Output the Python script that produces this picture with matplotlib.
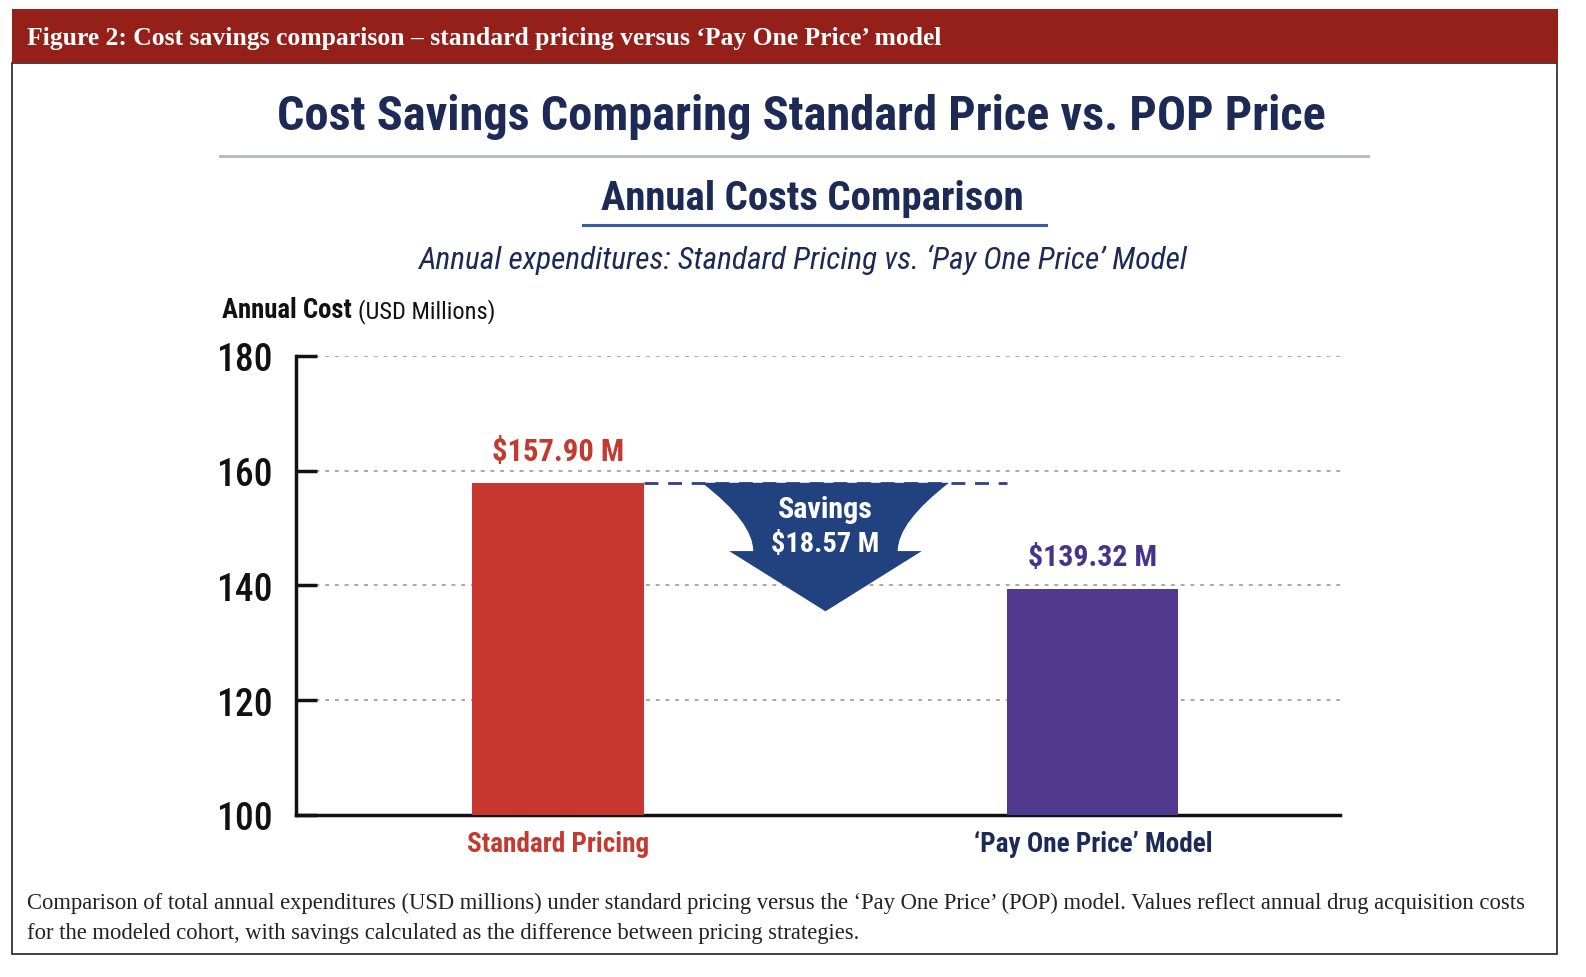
import matplotlib
matplotlib.use('Agg')

import matplotlib.pyplot as plt
from matplotlib.patches import Rectangle, PathPatch
from matplotlib.path import Path

# chart data
categories = ["Standard Pricing", "\u2018Pay One Price\u2019 Model"]
annual_cost = [157.90, 139.32]
value_labels = ["$157.90 M", "$139.32 M"]
savings = 18.57
y_ticks = [100, 120, 140, 160, 180]

W, H = 1586, 978
NAVY = "#1c2a55"
RED = "#c8372f"
RED_TXT = "#c23a30"
PURPLE = "#513a8e"
PURPLE_TXT = "#45358a"
ARROW = "#22427f"

SANS = ["Roboto Condensed", "Noto Sans Condensed", "Open Sans Condensed", "Open Sans"]
SERIF = ["Liberation Serif", "DejaVu Serif"]

fig = plt.figure(figsize=(W / 100, H / 100), dpi=100)
fig.patch.set_facecolor("white")
renderer = fig.canvas.get_renderer()

# background layer in pixel coordinates
bg = fig.add_axes([0, 0, 1, 1], zorder=0)
bg.set_xlim(0, W)
bg.set_ylim(H, 0)
bg.axis("off")


def fit(t, width):
    bb = t.get_window_extent(renderer)
    t.set_fontsize(t.get_fontsize() * width / bb.width)
    return t


def txt(x, y, s, width, ha="center", **kw):
    t = bg.text(x, y, s, ha=ha, va="center", fontsize=20, **kw)
    return fit(t, width)


bg.add_patch(Rectangle((12, 64), 1545, 891, fill=False, ec="#333333", lw=1.3))
bg.add_patch(Rectangle((12, 10), 1546, 54, fc="#95201a", ec="none"))

txt(27, 38, "Figure 2: Cost savings comparison \u2013 standard pricing versus \u2018Pay One Price\u2019 model",
    913, ha="left", color="white", family=SERIF, fontweight="bold")

txt(801, 117, "Cost Savings Comparing Standard Price vs. POP Price", 1047,
    color=NAVY, family=SANS, fontweight="bold")
bg.plot([220, 1368], [157, 157], color="#b3b7c4", lw=2)

txt(812, 199, "Annual Costs Comparison", 423, color=NAVY, family=SANS, fontweight="bold")
bg.plot([583, 1046], [226, 226], color="#3a5aa8", lw=2.2)

txt(802, 260, "Annual expenditures: Standard Pricing vs. \u2018Pay One Price\u2019 Model", 768,
    color=NAVY, family=SANS, style="italic")

txt(222, 310, "Annual Cost", 130, ha="left", color="#111111", family=SANS, fontweight="bold")
txt(358, 312, "(USD Millions)", 137, ha="left", color="#111111", family=SANS)

cap = txt(27, 903, "Comparison of total annual expenditures (USD millions) under standard pricing versus the "
          "\u2018Pay One Price\u2019 (POP) model. Values reflect annual drug acquisition costs",
          1500, ha="left", color="#222222", family=SERIF)
bg.text(27, 933, "for the modeled cohort, with savings calculated as the difference between pricing strategies.",
        ha="left", va="center", fontsize=cap.get_fontsize(), color="#222222", family=SERIF)

# chart axes
x0, x1, ytop, ybot = 296, 1340, 357, 816
ax = fig.add_axes([x0 / W, 1 - ybot / H, (x1 - x0) / W, (ybot - ytop) / H], zorder=1)
ax.patch.set_alpha(0)

xs = [0, 1]
bar_w = 0.32
ax.bar(xs, annual_cost, width=bar_w, color=[RED, PURPLE], zorder=3)

ax.set_xlim(-0.49, 1.462)
ax.set_ylim(y_ticks[0], y_ticks[-1])
ax.set_yticks(y_ticks)
ax.set_yticklabels([str(v) for v in y_ticks], family=SANS, fontsize=27, color="#111111",
                   fontweight="medium")
ax.set_xticks([])
for v in y_ticks[1:]:
    ax.axhline(v, color="#a9a9a9", lw=1.4, ls=(0, (2, 3)), zorder=1)

for s in ["top", "right"]:
    ax.spines[s].set_visible(False)
for s in ["left", "bottom"]:
    ax.spines[s].set_linewidth(2.5)
    ax.spines[s].set_color("#111111")
ax.tick_params(axis="y", direction="in", length=15, width=2.5, pad=17, color="#111111")

# value labels and category labels
label_cols = [RED_TXT, PURPLE_TXT]
cat_cols = [RED_TXT, NAVY]
lbl_w = [132, 129]
cat_w = [182, 239]
for i in range(2):
    t = ax.text(xs[i], annual_cost[i] + 5.6, value_labels[i], ha="center", va="center",
                fontsize=20, color=label_cols[i], family=SANS, fontweight="bold")
    fit(t, lbl_w[i])
    t = ax.text(xs[i], 95.0, categories[i], ha="center", va="center", fontsize=20,
                color=cat_cols[i], family=SANS, fontweight="bold", clip_on=False)
    fit(t, cat_w[i])

# dashed connector at the standard price level
top = annual_cost[0]
ax.hlines(top, xs[0] + bar_w / 2, xs[1] - bar_w / 2, colors="#2b3f8a", lw=2,
          linestyles=(0, (5, 3.5)), zorder=2)

# savings arrow
cx = (xs[0] + xs[1]) / 2
top_hw, neck_hw, wing_hw = 0.231, 0.135, 0.18
neck_y, tip_y = 146.0, 135.5
ctrl_y = top - 0.58 * (top - neck_y)
verts = [
    (cx - top_hw, top), (cx + top_hw, top),
    (cx + neck_hw, ctrl_y), (cx + neck_hw, neck_y),
    (cx + wing_hw, neck_y), (cx, tip_y), (cx - wing_hw, neck_y),
    (cx - neck_hw, neck_y),
    (cx - neck_hw, ctrl_y), (cx - top_hw, top),
    (cx - top_hw, top),
]
codes = [Path.MOVETO, Path.LINETO, Path.CURVE3, Path.CURVE3, Path.LINETO, Path.LINETO,
         Path.LINETO, Path.LINETO, Path.CURVE3, Path.CURVE3, Path.CLOSEPOLY]
ax.add_patch(PathPatch(Path(verts, codes), fc=ARROW, ec="none", zorder=4))

t = ax.text(cx, 153.4, "Savings", ha="center", va="center", fontsize=20, color="white",
            family=SANS, fontweight="bold", zorder=5)
fit(t, 95)
t = ax.text(cx, 147.3, "${:.2f} M".format(savings), ha="center", va="center", fontsize=20,
            color="white", family=SANS, fontweight="bold", zorder=5)
fit(t, 108)

fig.savefig("out.png", dpi=100, facecolor="white")
